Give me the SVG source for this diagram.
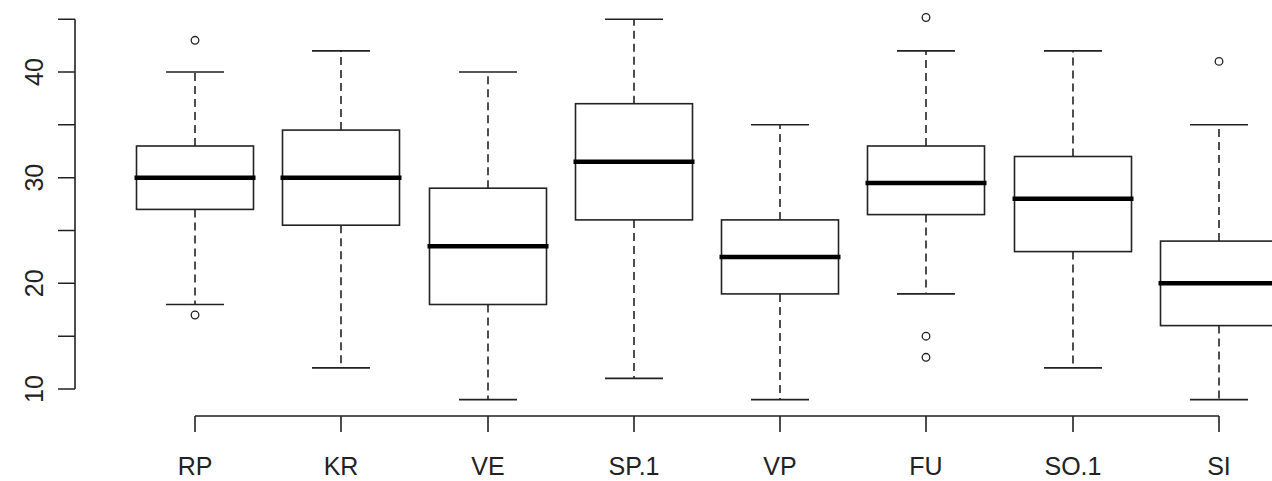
<svg xmlns="http://www.w3.org/2000/svg" width="1272" height="481" viewBox="0 0 1272 481">
<style>
.ax{stroke:#222;stroke-width:1.6;fill:none}
.bx{stroke:#222;stroke-width:1.6;fill:#fff}
.md{stroke:#000;stroke-width:4.5}
.wh{stroke:#222;stroke-width:1.6;stroke-dasharray:8,5}
.cp{stroke:#222;stroke-width:1.6}
.ol{stroke:#222;stroke-width:1.3;fill:#fff}
.lb{font-family:"Liberation Sans",Arial,sans-serif;font-size:25px;fill:#222;text-anchor:middle}
</style>
<rect width="1272" height="481" fill="#fff"/>
<g id="y-axis">
<path class="ax" d="M75 19.2V389M58 389H75M58 336.2H75M58 283.3H75M58 230.5H75M58 177.7H75M58 124.8H75M58 72H75M58 19.2H75"/>
<text class="lb" transform="translate(43 389) rotate(-90)">10</text>
<text class="lb" transform="translate(43 283.3) rotate(-90)">20</text>
<text class="lb" transform="translate(43 177.7) rotate(-90)">30</text>
<text class="lb" transform="translate(43 72) rotate(-90)">40</text>
</g>
<g id="x-axis">
<path class="ax" d="M195 416H1219M195 416V432M341 416V432M488 416V432M634 416V432M780 416V432M926 416V432M1073 416V432M1219 416V432"/>
<text class="lb" x="195" y="475">RP</text>
<text class="lb" x="341" y="475">KR</text>
<text class="lb" x="488" y="475">VE</text>
<text class="lb" x="634" y="475">SP.1</text>
<text class="lb" x="780" y="475">VP</text>
<text class="lb" x="926" y="475">FU</text>
<text class="lb" x="1073" y="475">SO.1</text>
<text class="lb" x="1219" y="475">SI</text>
</g>
<g id="box-RP">
<path class="wh" d="M195 146V72M195 209.4V304.5"/>
<path class="cp" d="M166 72H224M166 304.5H224"/>
<rect class="bx" x="136.5" y="146" width="117" height="63.4"/>
<path class="md" d="M134.5 177.7H255.5"/>
<circle class="ol" cx="195" cy="40.3" r="3.8"/>
<circle class="ol" cx="195" cy="315" r="3.8"/>
</g>
<g id="box-KR">
<path class="wh" d="M341 130.1V50.9M341 225.2V367.9"/>
<path class="cp" d="M312 50.9H370M312 367.9H370"/>
<rect class="bx" x="282.5" y="130.1" width="117" height="95.1"/>
<path class="md" d="M280.5 177.7H401.5"/>
</g>
<g id="box-VE">
<path class="wh" d="M488 188.2V72M488 304.5V399.6"/>
<path class="cp" d="M459 72H517M459 399.6H517"/>
<rect class="bx" x="429.5" y="188.2" width="117" height="116.3"/>
<path class="md" d="M427.5 246.3H548.5"/>
</g>
<g id="box-SP1">
<path class="wh" d="M634 103.7V19.2M634 219.9V378.4"/>
<path class="cp" d="M605 19.2H663M605 378.4H663"/>
<rect class="bx" x="575.5" y="103.7" width="117" height="116.2"/>
<path class="md" d="M573.5 161.8H694.5"/>
</g>
<g id="box-VP">
<path class="wh" d="M780 219.9V124.8M780 293.9V399.6"/>
<path class="cp" d="M751 124.8H809M751 399.6H809"/>
<rect class="bx" x="721.5" y="219.9" width="117" height="74"/>
<path class="md" d="M719.5 256.9H840.5"/>
</g>
<g id="box-FU">
<path class="wh" d="M926 146V50.9M926 214.6V293.9"/>
<path class="cp" d="M897 50.9H955M897 293.9H955"/>
<rect class="bx" x="867.5" y="146" width="117" height="68.6"/>
<path class="md" d="M865.5 182.9H986.5"/>
<circle class="ol" cx="926" cy="17.5" r="3.8"/>
<circle class="ol" cx="926" cy="336.2" r="3.8"/>
<circle class="ol" cx="926" cy="357.3" r="3.8"/>
</g>
<g id="box-SO1">
<path class="wh" d="M1073 156.5V50.9M1073 251.6V367.9"/>
<path class="cp" d="M1044 50.9H1102M1044 367.9H1102"/>
<rect class="bx" x="1014.5" y="156.5" width="117" height="95.1"/>
<path class="md" d="M1012.5 198.8H1133.5"/>
</g>
<g id="box-SI">
<path class="wh" d="M1219 241.1V124.8M1219 325.6V399.6"/>
<path class="cp" d="M1190 124.8H1248M1190 399.6H1248"/>
<rect class="bx" x="1160.5" y="241.1" width="117" height="84.5"/>
<path class="md" d="M1158.5 283.3H1279.5"/>
<circle class="ol" cx="1219" cy="61.4" r="3.8"/>
</g>
</svg>
